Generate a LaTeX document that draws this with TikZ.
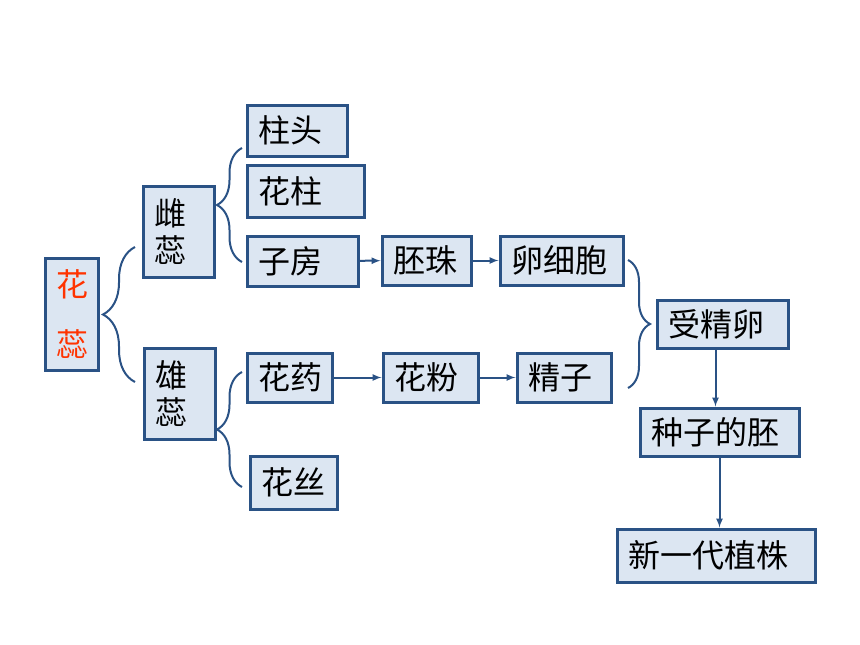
\documentclass[tikz,border=0pt]{standalone}
\usepackage{fontspec}
\newfontfamily\cjk{Noto Sans CJK SC}
\usepackage{tikz}
\usetikzlibrary{calc,decorations.pathreplacing}
\definecolor{boxblue}{RGB}{42,82,133}
\definecolor{boxfill}{RGB}{220,230,242}
\definecolor{flowred}{RGB}{255,51,0}
\tikzstyle{rect} = [rectangle, draw=boxblue, fill=boxfill, line width=3pt, minimum height=49pt, inner xsep=11pt, inner ysep=4pt, align=left, anchor=north west, xshift=1.5pt, yshift=-1.5pt, font=\cjk\fontsize{32}{37}\selectfont]
\tikzstyle{bracket} = [draw=boxblue, line width=2pt, decorate]
\tikzstyle{flow} = [draw=boxblue, line width=2pt, ->, >=latex]

\begin{document}
\begin{tikzpicture}[x=1pt, y=-1pt]

        \useasboundingbox (0,0) rectangle (860,645);

        %% flower parts

        \node (huarui) [rect, text width=31pt, minimum height=112pt, align=center, text=flowred] at (42,255) {花\\[23pt]蕊};
        \node (cirui) [rect, text width=49pt, minimum height=91pt] at (140,183) {雌\\蕊};
        \node (xiongrui) [rect, text width=49pt, minimum height=91pt] at (141,345) {雄\\蕊};

        \node (zhutou) [rect, text width=78pt, minimum height=51pt] at (244,102) {柱头};
        \node (huazhu) [rect, text width=95pt, minimum height=52pt] at (244,162) {花柱};
        \node (zifang) [rect, text width=89pt, minimum height=50pt] at (244,233) {子房};
        \node (huayao) [rect, text width=63pt] at (244,350) {花药};
        \node (huasi) [rect, text width=65pt, minimum height=53pt] at (247,453) {花丝};

        %% brackets

        \coordinate (b1top) at (135,247);
        \coordinate (b1bot) at (135,382);
        \coordinate (b2top) at (242,148);
        \coordinate (b2bot) at (242,262);
        \coordinate (b3top) at (242,372);
        \coordinate (b3bot) at (242,487);
        \coordinate (b4top) at (628,260);
        \coordinate (b4bot) at (628,388);

        \draw[bracket, decoration={brace, amplitude=32pt}] (b1bot) -- (b1top);
        \draw[bracket, decoration={brace, amplitude=25pt}] (b2bot) -- (b2top);
        \draw[bracket, decoration={brace, amplitude=25pt}] (b3bot) -- (b3top);
        \draw[bracket, decoration={brace, amplitude=22pt}] (b4top) -- (b4bot);

        %% fertilization

        \node (peizhu) [rect, text width=67pt] at (379,233) {胚珠};
        \node (luanxibao) [rect, text width=101pt] at (497,233) {卵细胞};
        \node (huafen) [rect, text width=73pt] at (380,350) {花粉};
        \node (jingzi) [rect, text width=72pt] at (514,350) {精子};
        \node (shoujingluan) [rect, text width=109pt, minimum height=48pt] at (654,297) {受精卵};
        \node (zhongzi) [rect, text width=137pt, minimum height=48pt] at (637,405) {种子的胚};
        \node (xinyidai) [rect, text width=176pt, minimum height=53pt] at (614,526) {新一代植株};

        \draw[flow] (zifang) -- (peizhu);
        \draw[flow] (peizhu) -- (luanxibao);
        \draw[flow] (huayao) -- (huafen);
        \draw[flow] (huafen) -- (jingzi);
        \draw[flow] ([xshift=-4pt]zhongzi.north |- shoujingluan.south) -- ([xshift=-4pt]zhongzi.north);
        \draw[flow] (zhongzi.south) -- (zhongzi.south |- xinyidai.north);

    \end{tikzpicture}
\end{document}
